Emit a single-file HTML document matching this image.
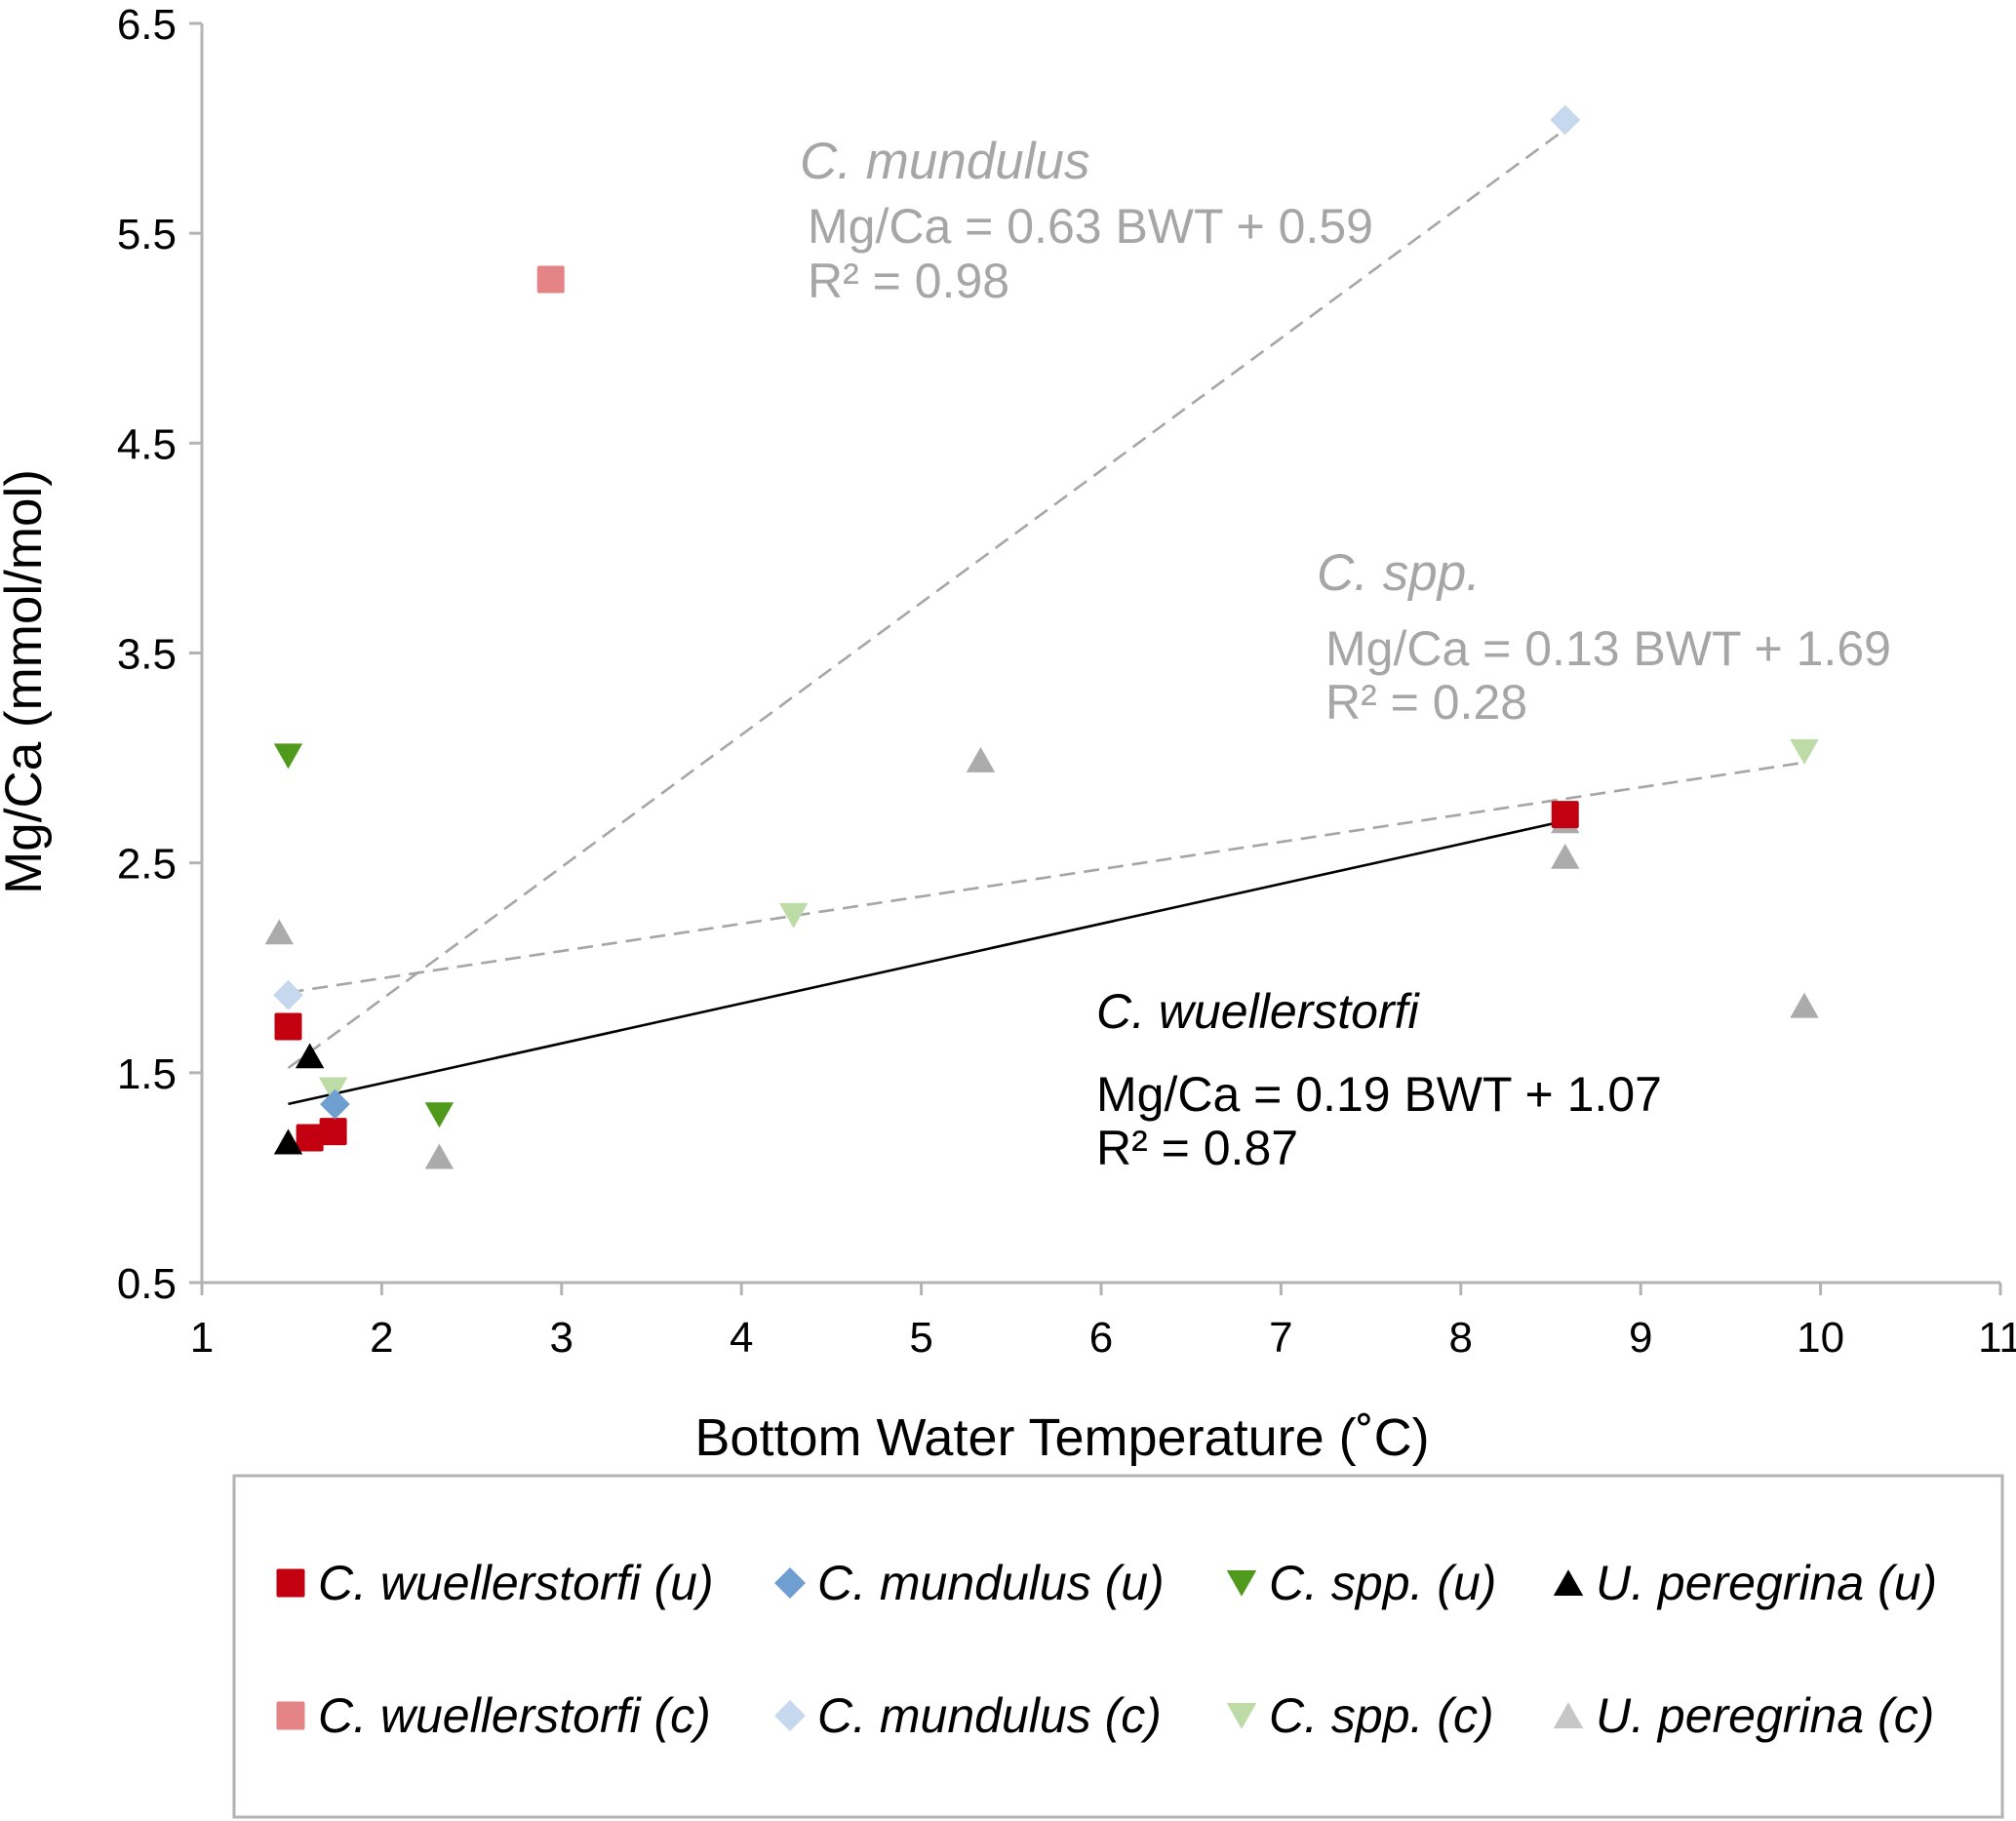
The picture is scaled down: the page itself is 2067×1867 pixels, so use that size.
<!DOCTYPE html>
<html><head><meta charset="utf-8"><style>
html,body{margin:0;padding:0;background:#fff;}
svg{display:block;font-family:"Liberation Sans",Arial,sans-serif;}
</style></head><body>
<svg id="chart" width="2067" height="1867" viewBox="0 0 2067 1867">
<g id="axes"></g>
<g id="lines"></g>
<g id="marks"></g>
<g id="annot">
<text x="820" y="183" font-size="53" font-style="italic" fill="#a6a6a6">C. mundulus</text>
<text x="828" y="249" font-size="50" fill="#a6a6a6">Mg/Ca = 0.63 BWT + 0.59</text>
<text x="828" y="305" font-size="50" fill="#a6a6a6">R² = 0.98</text>
<text x="1350" y="605" font-size="53" font-style="italic" fill="#a6a6a6">C. spp.</text>
<text x="1359" y="682" font-size="50" fill="#a6a6a6">Mg/Ca = 0.13 BWT + 1.69</text>
<text x="1359" y="737" font-size="50" fill="#a6a6a6">R² = 0.28</text>
<text x="1124" y="1054" font-size="50" font-style="italic" fill="#000">C. wuellerstorfi</text>
<text x="1124" y="1139" font-size="50" fill="#000">Mg/Ca = 0.19 BWT + 1.07</text>
<text x="1124" y="1194" font-size="50" fill="#000">R² = 0.87</text>
</g>
<text x="1089" y="1492" font-size="54" text-anchor="middle">Bottom Water Temperature (˚C)</text>
<text transform="translate(42,699) rotate(-90)" font-size="53" text-anchor="middle">Mg/Ca (mmol/mol)</text>
<rect x="240" y="1513" width="1813" height="350" fill="none" stroke="#b3b3b3" stroke-width="3"/>
<g id="legend"></g>
</svg>
<script>
const xTicks=[1,2,3,4,5,6,7,8,9,10,11];
const yTicks=[0.5,1.5,2.5,3.5,4.5,5.5,6.5];
const yTickLabels=["0.5","1.5","2.5","3.5","4.5","5.5","6.5"];
const seriesNames=["C. wuellerstorfi (u)","C. mundulus (u)","C. spp. (u)","U. peregrina (u)","C. wuellerstorfi (c)","C. mundulus (c)","C. spp. (c)","U. peregrina (c)"];
const wuelUx=[1.48,1.6,1.73,8.58]; const wuelUy=[1.72,1.19,1.22,2.73];
const wuelCx=[2.94]; const wuelCy=[5.28];
const mundUx=[1.74]; const mundUy=[1.35];
const mundCx=[1.48,8.58]; const mundCy=[1.87,6.04];
const sppUx=[1.48,2.32]; const sppUy=[3.01,1.30];
const sppCx=[1.73,4.29,9.91]; const sppCy=[1.42,2.25,3.03];
const perUx=[1.6,1.48]; const perUy=[1.58,1.17];
const perCx=[1.43,2.32,5.33,8.58,8.58,9.91]; const perCy=[2.17,1.10,2.99,2.53,2.70,1.82];
const trendSlope=[0.19,0.63,0.13]; const trendIntercept=[1.07,0.59,1.69];
const trendX0=[1.48,1.48,1.48]; const trendX1=[8.58,8.58,9.91];

const NS="http://www.w3.org/2000/svg";
const X0=207,X1=2051,Y0=1315,Y1=24;
const sx=v=>X0+(v-1)/(11-1)*(X1-X0);
const sy=v=>Y0-(v-0.5)/(6.5-0.5)*(Y0-Y1);
function mk(tag,attrs,parent){const e=document.createElementNS(NS,tag);for(const k in attrs)e.setAttribute(k,attrs[k]);parent.appendChild(e);return e;}
const axes=document.getElementById('axes');
let l=mk('line',{x1:X0,y1:Y1,x2:X0,y2:Y0,stroke:'#b3b3b3','stroke-width':3},axes);


l=mk('line',{x1:X0,y1:Y0,x2:X1,y2:Y0,stroke:'#b3b3b3','stroke-width':3},axes);


yTicks.forEach((v,i)=>{
 const t=mk('line',{x1:X0-13,y1:sy(v),x2:X0,y2:sy(v),stroke:'#b3b3b3','stroke-width':3},axes);
 
 
 const tx=mk('text',{x:181,y:sy(v)+16,'font-size':44,'text-anchor':'end'},axes);
 tx.textContent=yTickLabels[i];
 
 
});
xTicks.forEach(v=>{
 const t=mk('line',{x1:sx(v),y1:Y0,x2:sx(v),y2:Y0+13,stroke:'#b3b3b3','stroke-width':3},axes);
 
 
 const tx=mk('text',{x:sx(v),y:1386,'font-size':44,'text-anchor':'middle'},axes);
 tx.textContent=String(v);
 
 
});
const lines=document.getElementById('lines');
const lStyle=[{stroke:'#000',dash:''},{stroke:'#a6a6a6',dash:'16,9'},{stroke:'#a6a6a6',dash:'16,9'}];
const lNames=['trend-wuellerstorfi','trend-mundulus','trend-spp'];
trendSlope.forEach((m,i)=>{
 const a={x1:sx(trendX0[i]),y1:sy(m*trendX0[i]+trendIntercept[i]),x2:sx(trendX1[i]),y2:sy(m*trendX1[i]+trendIntercept[i]),stroke:lStyle[i].stroke,'stroke-width':2.6};
 if(lStyle[i].dash)a['stroke-dasharray']=lStyle[i].dash;
 const e=mk('line',a,lines);
 
 
});
function shape(type,cx,cy,s,color,parent){
 const h=s/2;let e;
 if(type==='sq')e=mk('rect',{x:cx-h,y:cy-h,width:s,height:s,fill:color,rx:2},parent);
 else if(type==='di')e=mk('polygon',{points:`${cx},${cy-h*1.1} ${cx+h*1.1},${cy} ${cx},${cy+h*1.1} ${cx-h*1.1},${cy}`,fill:color},parent);
 else if(type==='dn')e=mk('polygon',{points:`${cx-h*1.05},${cy-h*0.9} ${cx+h*1.05},${cy-h*0.9} ${cx},${cy+h*0.95}`,fill:color},parent);
 else e=mk('polygon',{points:`${cx-h*1.05},${cy+h*0.9} ${cx+h*1.05},${cy+h*0.9} ${cx},${cy-h*0.95}`,fill:color},parent);
 return e;
}
const series=[
 {xs:wuelCx,ys:wuelCy,t:'sq',c:'#e58487'},
 {xs:mundCx,ys:mundCy,t:'di',c:'#c5d8ee'},
 {xs:sppCx,ys:sppCy,t:'dn',c:'#bcdba6'},
 {xs:perCx,ys:perCy,t:'up',c:'#ababab'},
 {xs:wuelUx,ys:wuelUy,t:'sq',c:'#c3000f'},
 {xs:mundUx,ys:mundUy,t:'di',c:'#6f9fd0'},
 {xs:sppUx,ys:sppUy,t:'dn',c:'#4f9a1c'},
 {xs:perUx,ys:perUy,t:'up',c:'#000'}
];
const ptNames=['point-wuellerstorfi-c','point-mundulus-c','point-spp-c','point-peregrina-c','point-wuellerstorfi-u','point-mundulus-u','point-spp-u','point-peregrina-u'];
const marks=document.getElementById('marks');
series.forEach((s,si)=>{
 s.xs.forEach((x,i)=>{
  const e=shape(s.t,sx(x),sy(s.ys[i]),28,s.c,marks);
  
  
 });
});
const legend=document.getElementById('legend');
const legCols=[298,810,1273,1608];
const legRows=[1623,1759];
const legTypes=['sq','di','dn','up'];
const legColors=[['#c3000f','#6f9fd0','#4f9a1c','#000'],['#e58487','#c5d8ee','#bcdba6','#c6c6c6']];
for(let r=0;r<2;r++)for(let c=0;c<4;c++){
 const e=shape(legTypes[c],legCols[c],legRows[r],29,legColors[r][c],legend);
 
 
 const t=mk('text',{x:legCols[c]+28,y:legRows[r]+17,'font-size':50,'font-style':'italic'},legend);
 t.textContent=seriesNames[r*4+c];
 
 
}
</script>
</body></html>
